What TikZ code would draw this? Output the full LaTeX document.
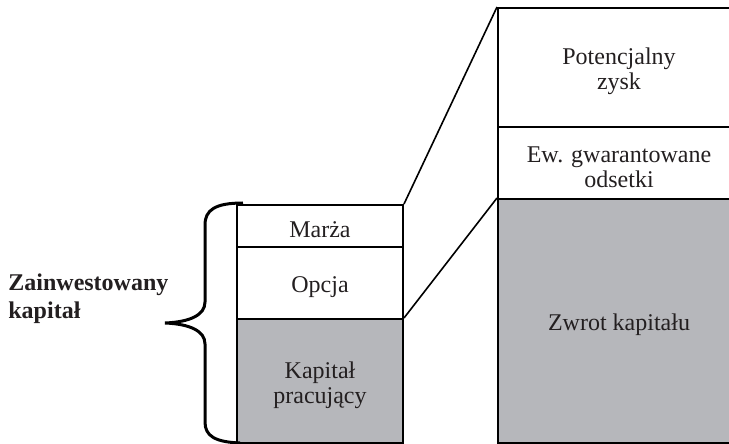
\documentclass[tikz,border=0pt]{standalone}
\usepackage{fontspec}
\setmainfont{Liberation Serif}
\definecolor{szary}{RGB}{182,183,187}
\definecolor{tekst}{RGB}{35,31,32}
\begin{document}
\begin{tikzpicture}[
    x=0.5pt, y=-0.5pt,
    blok/.style={rectangle, draw, line width=1pt, inner sep=0pt},
    lewy/.style={blok, minimum width=83pt},
    prawy/.style={blok, minimum width=121pt},
    napis/.style={align=center, inner sep=0pt, yshift=-2pt, text=tekst, font=\fontsize{12}{12.5}\selectfont},
    linia/.style={line width=0.8pt},
    klamra/.style={line width=1.5pt}
]
\useasboundingbox (0,0) rectangle (729,444);

% Lewa kolumna
\node[lewy, minimum height=21pt] (marza) at (320,226) {};
\node[lewy, minimum height=36pt] (opcja) at (320,283) {};
\node[lewy, minimum height=62pt, fill=szary] (kapital) at (320,381) {};
\node[napis] (tmarza) at (marza) {Marża};
\node[napis] (topcja) at (opcja) {Opcja};
\node[napis] (tkapital) at (kapital) {Kapitał\\pracujący};

% Prawa kolumna
\node[prawy, minimum height=59.5pt] (zysk) at (619,67.5) {};
\node[prawy, minimum height=36pt] (odsetki) at (619,163) {};
\node[prawy, minimum height=122pt, fill=szary] (zwrot) at (619,321) {};
\node[napis] (tzysk) at (zysk) {Potencjalny\\zysk};
\node[napis] (todsetki) at (odsetki) {Ew. gwarantowane\\odsetki};
\node[napis] (tzwrot) at (zwrot) {Zwrot kapitału};

% Linie łączące
\draw[linia] (marza.north east) -- (zysk.north west);
\draw[linia] (kapital.north east) -- (zwrot.north west);

% Klamra
\draw[klamra] (243,203) .. controls (215,203) and (205,210) .. (205,225) -- (205,302)
    .. controls (205,315) and (190,322) .. (165,323)
    .. controls (190,324) and (205,331) .. (205,344) -- (205,422)
    .. controls (205,436) and (215,442) .. (240,443);

% Etykieta
\node[font=\bfseries\fontsize{12}{14}\selectfont, text=tekst, align=left, anchor=west, inner sep=0pt] (etykieta) at (8,299) {Zainwestowany\\kapitał};
\end{tikzpicture}
\end{document}
